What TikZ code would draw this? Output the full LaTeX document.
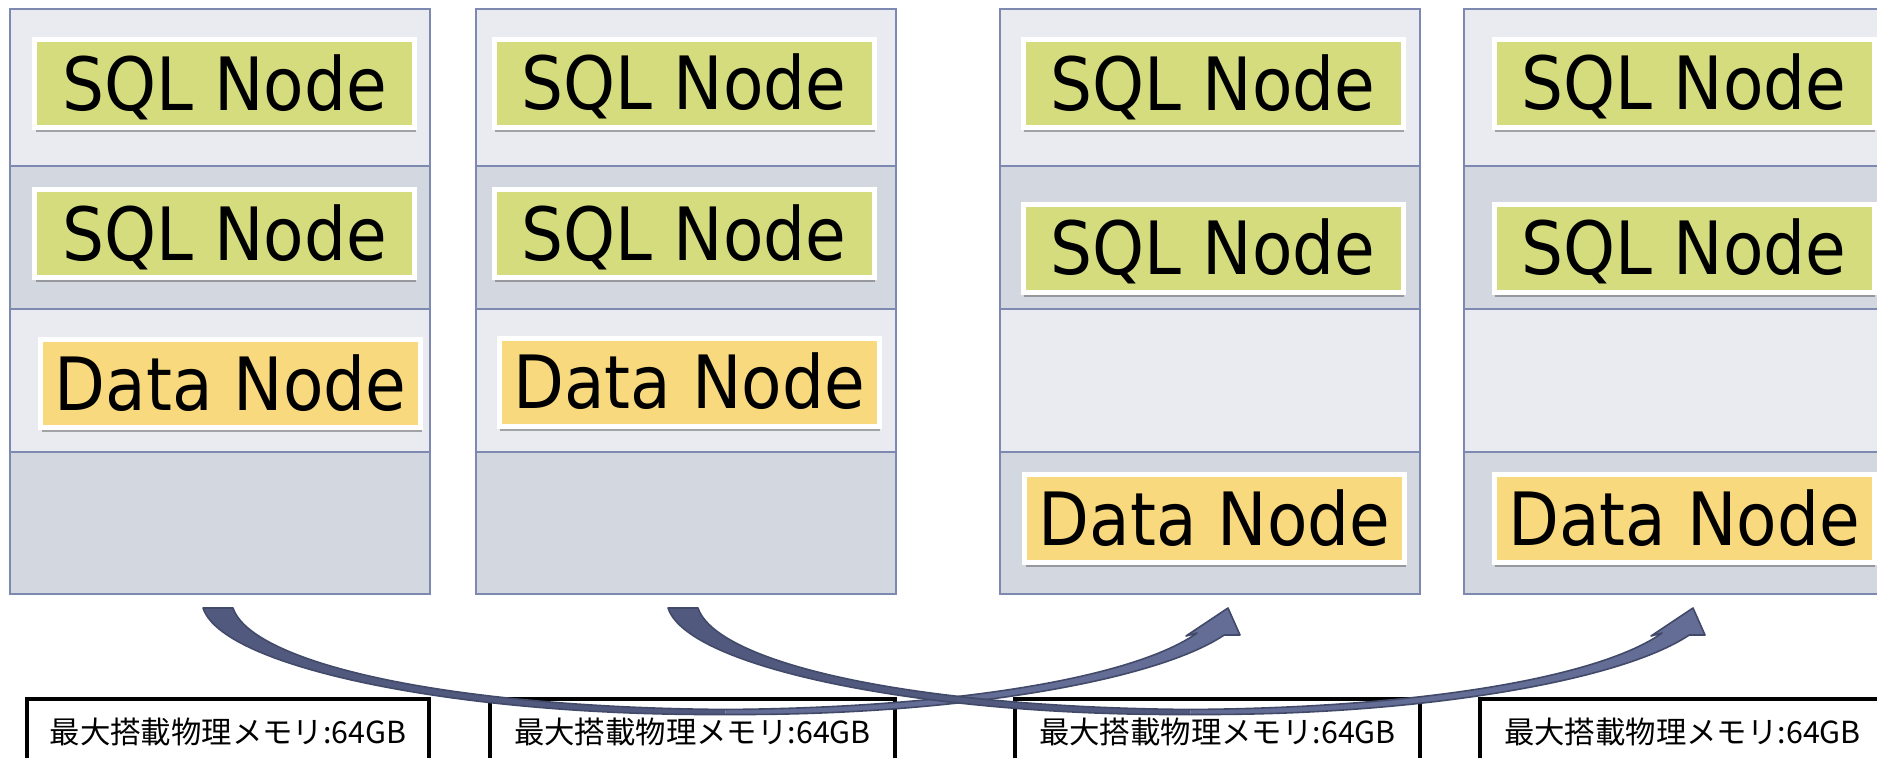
\documentclass[tikz,border=0pt]{standalone}
\usepackage{fontspec}
\newfontfamily\boxfont[FakeStretch=0.9]{DejaVu Sans}
\newfontfamily\jpfont{Noto Sans CJK JP}
\usetikzlibrary{shadows}

\definecolor{rowlight}{HTML}{E9EBF0}
\definecolor{rowdark}{HTML}{D3D7E0}
\definecolor{rackline}{HTML}{7D89B1}
\definecolor{sqlfill}{HTML}{D4DC7E}
\definecolor{datafill}{HTML}{F9D97D}
\definecolor{arrowback}{HTML}{515A7E}
\definecolor{arrowfront}{HTML}{646D95}
\definecolor{arrowline}{HTML}{424A69}

\begin{document}
\begin{tikzpicture}[x=0.5pt, y=-0.5pt,
  cell/.style={draw=rackline, line width=1.3pt},
  proc/.style={draw=white, line width=2.5pt, minimum width=190pt, minimum height=44pt,
    inner sep=0pt, font=\boxfont\fontsize{36.75pt}{40pt}\selectfont,
    text height=26.8pt, text depth=0pt,
    drop shadow={shadow xshift=0.6pt, shadow yshift=-2.4pt, opacity=0.45, fill=black!70}},
  sqlnode/.style={proc, fill=sqlfill},
  datanode/.style={proc, fill=datafill},
  membox/.style={draw=black, line width=2pt},
  memlabel/.style={font=\jpfont\fontsize{15.2pt}{18pt}\selectfont, anchor=base, inner sep=0pt},
  bandline/.style={draw=arrowline, line width=0.8pt, line join=round}
]
\useasboundingbox (0,0) rectangle (1877,757);
\clip (0,0) rectangle (1877,757);

% server columns, four memory slots each
\foreach \L in {10,476,1000,1464} {
  \draw[cell, fill=rowlight] (\L,9)   rectangle ++(420,157);
  \draw[cell, fill=rowdark]  (\L,166) rectangle ++(420,143);
  \draw[cell, fill=rowlight] (\L,309) rectangle ++(420,143);
  \draw[cell, fill=rowdark]  (\L,452) rectangle ++(420,142);
}

% processes placed in the slots
\node[sqlnode]  (sqlA1) at (224.5,83.5)  {SQL Node};
\node[sqlnode]  (sqlA2) at (224.5,233.5) {SQL Node};
\node[datanode] (datA)  at (230.5,383.5) {Data Node};

\node[sqlnode]  (sqlB1) at (684,83)    {SQL Node};
\node[sqlnode]  (sqlB2) at (684,233.5) {SQL Node};
\node[datanode] (datB)  at (689,382)   {Data Node};

\node[sqlnode]  (sqlC1) at (1213,83.5)   {SQL Node};
\node[sqlnode]  (sqlC2) at (1213,248)    {SQL Node};
\node[datanode] (datC)  at (1214.5,518.5) {Data Node};

\node[sqlnode]  (sqlD1) at (1684,83)    {SQL Node};
\node[sqlnode]  (sqlD2) at (1684,248)   {SQL Node};
\node[datanode] (datD)  at (1684,518.5) {Data Node};

% memory capacity captions
\draw[membox] (27,699)   rectangle (429,790);
\draw[membox] (490,699)  rectangle (895,790);
\draw[membox] (1015,699) rectangle (1420,790);
\draw[membox] (1480,699) rectangle (1885,790);
\node[memlabel] (memA) at (228,743)    {最大搭載物理メモリ:64GB};
\node[memlabel] (memB) at (692.5,743)  {最大搭載物理メモリ:64GB};
\node[memlabel] (memC) at (1217.5,743) {最大搭載物理メモリ:64GB};
\node[memlabel] (memD) at (1682.5,743) {最大搭載物理メモリ:64GB};

% curved ribbon arrows moving a data node to the right-hand servers
\foreach \s in {0,465} {
\begin{scope}[shift={(\s,0)}]
  % back face of the ribbon (tail side)
  \fill[arrowback] (203,608)
    -- plot[domain=175.9:88.31, samples=50] ({710.7+509*cos(\x)},{600+112*sin(\x)+2.5*(sin(\x))^4})
    -- plot[domain=91.69:175.9, samples=50] ({740.7+509*cos(\x)},{600+112*sin(\x)-2.5*(sin(\x))^4})
    -- cycle;
  % front face with the arrow head
  \fill[arrowfront]
    plot[domain=91.69:18.21, samples=50] ({740.7+509*cos(\x)},{600+112*sin(\x)+2.5*(sin(\x))^4})
    -- (1240,635) -- (1228,608) -- (1186,636)
    -- plot[domain=17.14:88.31, samples=50] ({710.7+509*cos(\x)},{600+112*sin(\x)-2.5*(sin(\x))^4})
    -- cycle;
  % outline
  \path[bandline] (203,608)
    -- plot[domain=175.9:88.31, samples=50] ({710.7+509*cos(\x)},{600+112*sin(\x)+2.5*(sin(\x))^4})
    -- plot[domain=91.69:18.21, samples=50] ({740.7+509*cos(\x)},{600+112*sin(\x)+2.5*(sin(\x))^4})
    -- (1240,635) -- (1228,608) -- (1186,636)
    -- plot[domain=17.14:88.31, samples=50] ({710.7+509*cos(\x)},{600+112*sin(\x)-2.5*(sin(\x))^4})
    -- plot[domain=91.69:175.9, samples=50] ({740.7+509*cos(\x)},{600+112*sin(\x)-2.5*(sin(\x))^4})
    -- cycle;
\end{scope}
}
\end{tikzpicture}
\end{document}
